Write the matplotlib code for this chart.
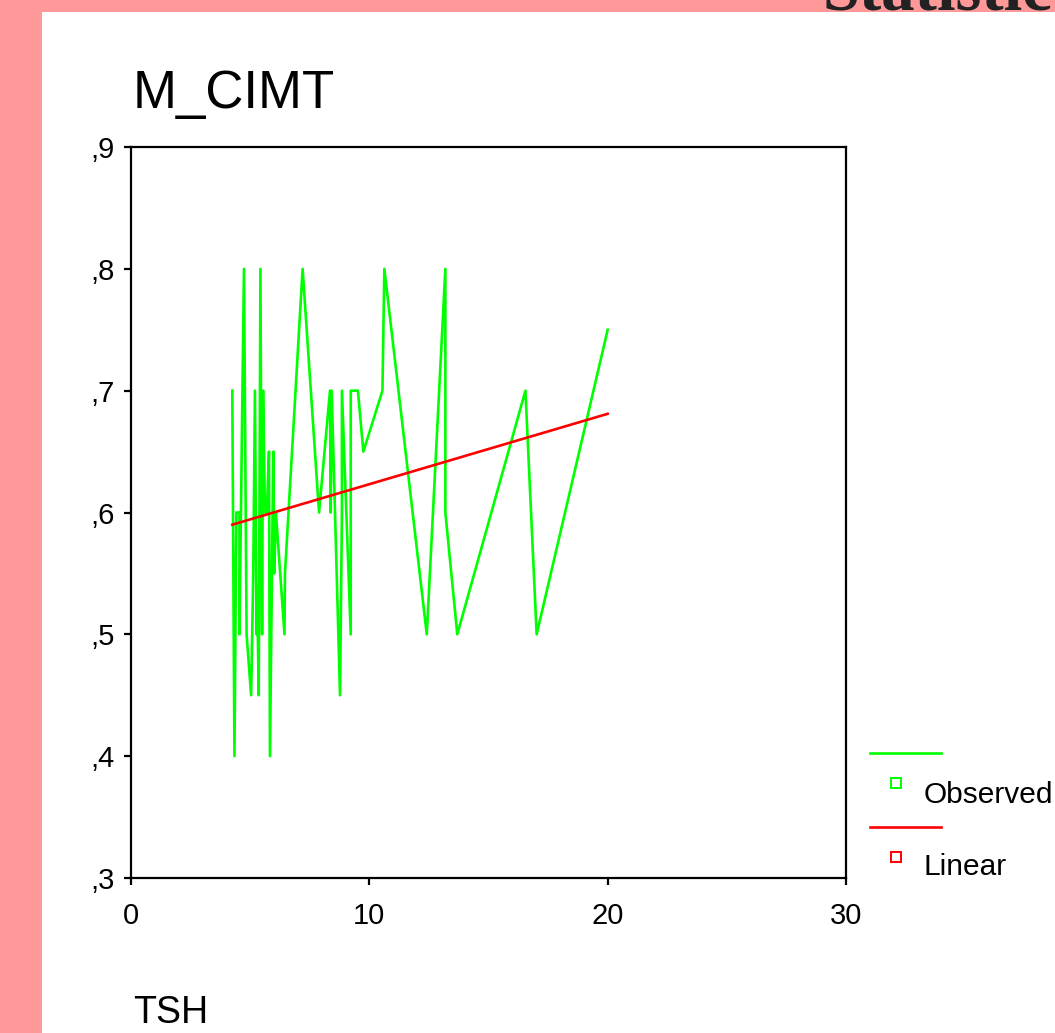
import matplotlib
matplotlib.use("Agg")
import matplotlib.pyplot as plt
from matplotlib.lines import Line2D
from matplotlib.patches import Rectangle

plt.rcParams['font.family'] = ['Liberation Sans', 'DejaVu Sans']

# Observed data (TSH, M_CIMT), in plotted order
tsh = [4.25, 4.34, 4.42, 4.55, 4.55, 4.74, 4.85, 5.04, 5.13, 5.20, 5.27, 5.29,
       5.36, 5.43, 5.50, 5.54, 5.62, 5.70, 5.79, 5.83, 5.97, 6.01, 6.08, 6.44,
       6.46, 7.20, 7.89, 8.35, 8.38, 8.42, 8.77, 8.85, 8.85, 9.22, 9.22, 9.52,
       9.75, 10.55, 10.63, 12.41, 13.19, 13.19, 13.69, 16.55, 17.02, 20.00]
cimt = [0.70, 0.40, 0.60, 0.60, 0.50, 0.80, 0.50, 0.45, 0.55, 0.70, 0.50, 0.54,
        0.45, 0.80, 0.50, 0.70, 0.60, 0.60, 0.65, 0.40, 0.65, 0.55, 0.60, 0.50,
        0.55, 0.80, 0.60, 0.70, 0.60, 0.70, 0.45, 0.60, 0.70, 0.50, 0.70, 0.70,
        0.65, 0.70, 0.80, 0.50, 0.80, 0.60, 0.50, 0.70, 0.50, 0.75]

# Linear fit line (read endpoints)
fit_x = [4.25, 20.00]
fit_y = [0.590, 0.681]

x_ticks = [0, 10, 20, 30]
y_ticks = [0.3, 0.4, 0.5, 0.6, 0.7, 0.8, 0.9]
y_labels = [',3', ',4', ',5', ',6', ',7', ',8', ',9']

W, H = 1055, 1033
fig = plt.figure(figsize=(W / 100, H / 100), dpi=100)
fig.patch.set_facecolor('white')

# pink frame (left and top strips)
fig.add_artist(Rectangle((0, 0), 42 / W, 1, transform=fig.transFigure,
                         facecolor='#FF9999', edgecolor='none', zorder=0))
fig.add_artist(Rectangle((0, 1 - 12 / H), 1, 12 / H, transform=fig.transFigure,
                         facecolor='#FF9999', edgecolor='none', zorder=0))
fig.text(822 / W, 1 - 9 / H, 'Statistic', family='Liberation Serif',
         fontsize=48, color='#222222', ha='left', va='baseline', fontweight='bold')

ax = fig.add_axes([131 / W, 1 - 878 / H, (846 - 131) / W, (878 - 147) / H])
ax.plot(tsh, cimt, color='#00FF00', lw=1.9, zorder=2)
ax.plot(fit_x, fit_y, color='#FF0000', lw=1.9, zorder=3)

ax.set_xlim(0, 30)
ax.set_ylim(0.3, 0.9)
ax.set_xticks(x_ticks)
ax.set_xticklabels([str(v) for v in x_ticks])
ax.set_yticks(y_ticks)
ax.set_yticklabels(y_labels)
for s in ax.spines.values():
    s.set_linewidth(1.6)
    s.set_color('black')
ax.tick_params(direction='out', length=5, width=1.6, labelsize=21)
ax.tick_params(axis='x', pad=12)
ax.tick_params(axis='y', pad=7)

fig.text(133 / W, 1 - 108 / H, 'M_CIMT', fontsize=38, ha='left', va='baseline')
fig.text(133 / W, 1 - 1023 / H, 'TSH', fontsize=27, ha='left', va='baseline')

# legend
def fx(px):
    return px / W

def fy(py):
    return 1 - py / H

fig.add_artist(Line2D([fx(870), fx(941)], [fy(753), fy(753)], color='#00FF00', lw=1.9))
fig.add_artist(Line2D([fx(896)], [fy(783)], marker='s', markersize=7, mfc='white',
                      mec='#00FF00', mew=1.4, ls='none'))
fig.text(fx(924), fy(795), 'Observed', fontsize=21.5, ha='left', va='center')
fig.add_artist(Line2D([fx(870), fx(941)], [fy(827), fy(827)], color='#FF0000', lw=1.9))
fig.add_artist(Line2D([fx(896)], [fy(857)], marker='s', markersize=7, mfc='white',
                      mec='#FF0000', mew=1.4, ls='none'))
fig.text(fx(924), fy(867), 'Linear', fontsize=21.5, ha='left', va='center')

fig.savefig('out.png', dpi=100, facecolor='white')
